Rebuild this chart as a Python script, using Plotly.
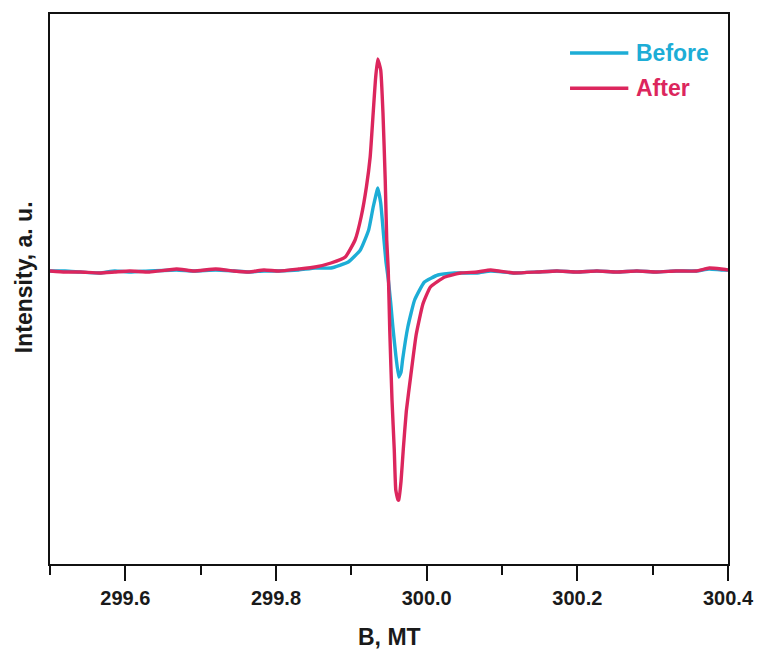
import plotly.graph_objects as go

# Magnetic field, mT
b_field = [299.500, 299.520, 299.540, 299.566, 299.586, 299.606, 299.632, 299.668,
           299.691, 299.720, 299.744, 299.764, 299.784, 299.804, 299.830, 299.852,
           299.873, 299.892, 299.905, 299.913, 299.920, 299.925, 299.929, 299.932,
           299.935, 299.939, 299.942, 299.945, 299.947, 299.949, 299.951, 299.954,
           299.957, 299.959, 299.962, 299.963, 299.966, 299.969, 299.973, 299.979,
           299.986, 299.995, 300.005, 300.024, 300.045, 300.067, 300.085, 300.116,
           300.147, 300.173, 300.199, 300.226, 300.252, 300.279, 300.305, 300.331,
           300.358, 300.375, 300.391, 300.400]

after = [0, -1, -1, -2, -1, 0, -1, 2,
         0, 2, 0, -1, 1, 0, 2, 4,
         8, 14, 31, 54, 84, 114, 158, 191,
         212, 201, 158, 91, 31, 1, -59, -129,
         -179, -219, -229, -229, -210, -178, -140, -104,
         -64, -33, -16, -6, -2, -1, 1, -2,
         -1, 0, -1, 0, -1, 0, -1, 0,
         0, 3, 2, 1]

b_field_before = [299.500, 299.520, 299.540, 299.566, 299.586, 299.606, 299.632, 299.668,
                  299.691, 299.720, 299.744, 299.764, 299.784, 299.804, 299.830, 299.852,
                  299.873, 299.896, 299.912, 299.923, 299.929, 299.933, 299.935, 299.939,
                  299.943, 299.946, 299.949, 299.952, 299.953, 299.955, 299.959, 299.963,
                  299.966, 299.968, 299.975, 299.984, 299.997, 300.015, 300.037, 300.067,
                  300.085, 300.116, 300.147, 300.173, 300.199, 300.226, 300.252, 300.279,
                  300.305, 300.331, 300.358, 300.375, 300.391, 300.400]

before = [0, 0, -1, -2, 0, -1, 0, 1,
          0, 1, 0, -1, 0, 0, 1, 3,
          3, 9, 21, 41, 64, 77, 83, 68,
          34, 9, -8, -30, -38, -55, -84, -106,
          -101, -89, -56, -29, -11, -4, -2, -2,
          0, -2, -1, 0, -1, 0, -1, 0,
          -1, 0, 0, 2, 1, 1]

x_ticks = [299.6, 299.8, 300.0, 300.2, 300.4]
x_tick_labels = ["299.6", "299.8", "300.0", "300.2", "300.4"]

C_BEFORE = "#1DADD6"
C_AFTER = "#DC265D"
FONT = "Liberation Sans"

fig = go.Figure()
fig.add_trace(go.Scatter(x=b_field_before, y=before, mode="lines", name="Before",
                         line=dict(color=C_BEFORE, width=3.4, shape="spline", smoothing=0.4)))
fig.add_trace(go.Scatter(x=b_field, y=after, mode="lines", name="After",
                         line=dict(color=C_AFTER, width=3.4, shape="spline", smoothing=0.4)))

fig.update_layout(
    width=766, height=655,
    margin=dict(l=50, r=34, t=14, b=91),
    paper_bgcolor="white", plot_bgcolor="white",
    showlegend=False,
    font=dict(family=FONT, color="#1a1a1a"),
)
fig.update_xaxes(
    range=[299.5, 300.4], tickmode="array", tickvals=x_ticks, ticktext=x_tick_labels,
    ticks="outside", ticklen=15, tickwidth=2, tickcolor="#111",
    minor=dict(ticks="outside", ticklen=9, tickwidth=2, tickcolor="#111",
               tick0=299.5, dtick=0.1),
    showline=True, linecolor="#111", linewidth=2, mirror=True,
    showgrid=False, zeroline=False,
    tickfont=dict(family=FONT, size=20, weight="bold", color="#1a1a1a"),
)
fig.update_yaxes(
    range=[-293, 257], showticklabels=False, ticks="",
    showline=True, linecolor="#111", linewidth=2, mirror=True,
    showgrid=False, zeroline=False,
)

# legend drawn manually
for yy, col, txt in [(0.929, C_BEFORE, "Before"), (0.865, C_AFTER, "After")]:
    fig.add_shape(type="line", xref="paper", yref="paper", x0=0.767, x1=0.853,
                  y0=yy, y1=yy, line=dict(color=col, width=3.4))
    fig.add_annotation(xref="paper", yref="paper", x=0.861, y=yy, text=txt,
                       showarrow=False, xanchor="left", yanchor="middle",
                       font=dict(family=FONT, size=23, weight="bold", color=col))

fig.add_annotation(xref="paper", yref="paper", x=0.5, y=-0.133, text="B, MT",
                   showarrow=False, xanchor="center", yanchor="middle",
                   font=dict(family=FONT, size=23, weight="bold", color="#1a1a1a"))
fig.add_annotation(xref="paper", yref="paper", x=-0.038, y=0.522, text="Intensity, a. u.",
                   showarrow=False, xanchor="center", yanchor="middle", textangle=-90,
                   font=dict(family=FONT, size=23, weight="bold", color="#1a1a1a"))

fig.write_html("out.html")
